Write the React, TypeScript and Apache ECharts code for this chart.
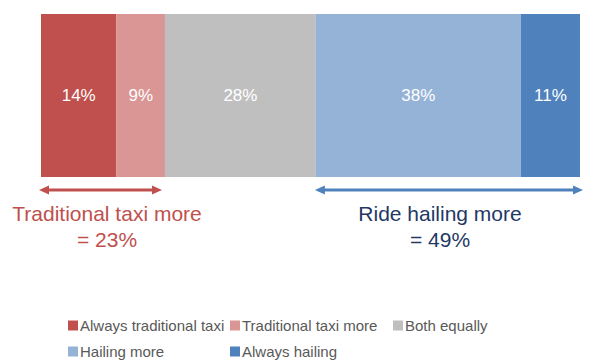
import React, { useEffect, useRef } from "react";
import * as echarts from "echarts";

const categories = ["All"];
const seriesNames = [
  "Always traditional taxi",
  "Traditional taxi more",
  "Both equally",
  "Hailing more",
  "Always hailing",
];
const seriesValues = [14, 9, 28, 38, 11];
const seriesColors = ["#C0504D", "#D99694", "#BFBFBF", "#95B3D7", "#4F81BD"];
const groupLabels = ["Traditional taxi more", "Ride hailing more"];
const groupTotals = [23, 49];

export default function App() {
  const ref = useRef<HTMLDivElement>(null);
  useEffect(() => {
    document.body.style.margin = "0";
    const chart = echarts.init(ref.current!, undefined, { renderer: "svg" });
    const legendPos = [
      { left: 68, top: 318 },
      { left: 230, top: 318 },
      { left: 393, top: 318 },
      { left: 68, top: 344 },
      { left: 230, top: 344 },
    ];
    chart.setOption({
      animation: false,
      grid: { left: 41, right: 13, top: 14, height: 163 },
      xAxis: { type: "value", min: 0, max: 100, show: false },
      yAxis: { type: "category", data: categories, show: false },
      legend: seriesNames.map((n, i) => ({
        data: [n],
        left: legendPos[i].left,
        top: legendPos[i].top,
        itemWidth: 10,
        itemHeight: 10,
        icon: "rect",
        padding: 0,
        selectedMode: false,
        textStyle: { color: "#595959", fontSize: 15, fontFamily: "Liberation Sans, Arial", padding: [0, 0, 0, -3] },
      })),
      series: seriesNames.map((n, i) => ({
        name: n,
        type: "bar",
        stack: "total",
        barCategoryGap: 0,
        barWidth: "100%",
        itemStyle: { color: seriesColors[i] },
        label: {
          show: true,
          position: "inside",
          color: "#fff",
          fontSize: 17,
          fontFamily: "Liberation Sans, Arial",
          formatter: "{c}%",
        },
        data: [seriesValues[i]],
      })),
    });

    const px = (v: number) => chart.convertToPixel({ xAxisIndex: 0 }, v) as number;
    const y = 190;
    const redStart = px(0) - 2;
    const redEnd = px(groupTotals[0]) - 3;
    const blueStart = px(100 - groupTotals[1]) - 1;
    const blueEnd = px(100) + 3;
    const arrow = (x1: number, x2: number, color: string) => [
      { type: "line", shape: { x1: x1 + 8, y1: y, x2: x2 - 8, y2: y }, style: { stroke: color, lineWidth: 3 } },
      { type: "polygon", shape: { points: [[x1, y], [x1 + 10, y - 4.5], [x1 + 10, y + 4.5]] }, style: { fill: color } },
      { type: "polygon", shape: { points: [[x2, y], [x2 - 10, y - 4.5], [x2 - 10, y + 4.5]] }, style: { fill: color } },
    ];
    const txt = (x: number, yy: number, s: string, color: string) => ({
      type: "text",
      x,
      y: yy,
      style: {
        text: s,
        fill: color,
        fontSize: 21,
        fontFamily: "Liberation Sans, Arial",
        align: "center",
        verticalAlign: "middle",
      },
    });
    const redC = 107;
    const blueC = 440;
    chart.setOption({
      graphic: [
        ...arrow(redStart, redEnd, "#C0504D"),
        ...arrow(blueStart, blueEnd, "#4F81BD"),
        txt(redC, 213, groupLabels[0], "#C0504D"),
        txt(redC, 239, "= " + groupTotals[0] + "%", "#C0504D"),
        txt(blueC, 213, groupLabels[1], "#1F3864"),
        txt(blueC, 239, "= " + groupTotals[1] + "%", "#1F3864"),
      ],
    });
    return () => chart.dispose();
  }, []);
  return <div ref={ref} style={{ width: 593, height: 360 }} />;
}
